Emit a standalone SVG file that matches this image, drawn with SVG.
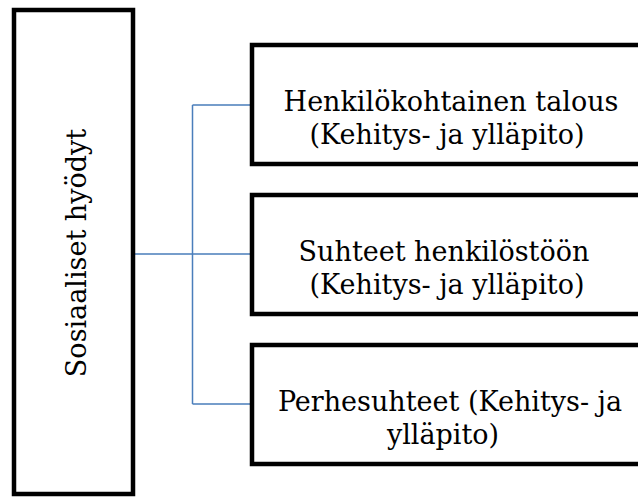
<svg xmlns="http://www.w3.org/2000/svg" width="638" height="498" viewBox="0 0 638 498">
<style>
.box{fill:#fff;stroke:#000;stroke-width:4.5}
.t{font-family:"DejaVu Serif","Liberation Serif",serif;font-size:27px;fill:#000;text-anchor:middle}
.c{fill:none;stroke:#4a7ebb;stroke-width:1.5}
</style>
<rect width="638" height="498" fill="#fff"/>
<g id="connectors">
<path class="c" d="M133 254H252M192.5 105V404M192.5 105H252M192.5 404H252"/>
</g>
<g id="root">
<rect class="box" x="14" y="10" width="119" height="484"/>
<text class="t" transform="translate(86 253) rotate(-90)">Sosiaaliset hyödyt</text>
</g>
<g id="n1">
<rect class="box" x="252" y="45" width="400" height="119"/>
<text class="t" x="451" y="111">Henkilökohtainen talous</text>
<text class="t" x="447" y="144">(Kehitys- ja ylläpito)</text>
</g>
<g id="n2">
<rect class="box" x="252" y="195" width="400" height="119"/>
<text class="t" x="444" y="261">Suhteet henkilöstöön</text>
<text class="t" x="447" y="294">(Kehitys- ja ylläpito)</text>
</g>
<g id="n3">
<rect class="box" x="252" y="345" width="400" height="119"/>
<text class="t" x="450" y="411">Perhesuhteet (Kehitys- ja</text>
<text class="t" x="443" y="444">ylläpito)</text>
</g>
</svg>
